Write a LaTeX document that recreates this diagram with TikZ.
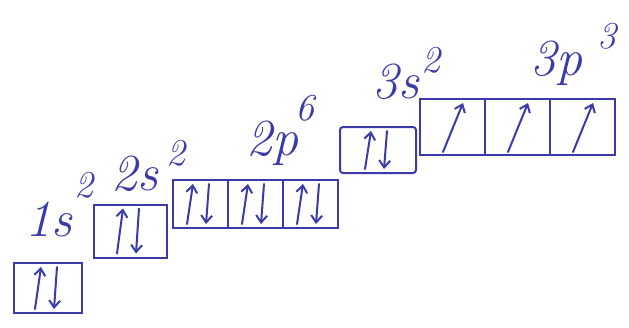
\documentclass[tikz,border=0pt]{standalone}
\usepackage{tikz}
\usetikzlibrary{arrows.meta}
\definecolor{ink}{RGB}{58,58,168}
% pair of opposite spins in one cell
\newcommand\spinpair[1]{%
  \draw[spin] ([xshift=-13pt,yshift=5pt]#1.south) -- ([xshift=-7pt,yshift=-5pt]#1.north);
  \draw[spin] ([xshift=9pt,yshift=-5pt]#1.north) -- ([xshift=6pt,yshift=5pt]#1.south);}
% single spin in one cell
\newcommand\spinup[1]{%
  \draw[spin] ([xshift=-9pt,yshift=4pt]#1.south) -- ([xshift=11pt,yshift=-5pt]#1.north);}
\begin{document}
\begin{tikzpicture}[x=1pt,y=-1pt,
  cell/.style={draw=ink,line width=2pt,inner sep=0pt},
  spin/.style={ink,line width=2pt,line cap=round,-{Straight Barb[length=7pt,width=11pt]}},
  lbl/.style={text=ink,anchor=base,font=\fontsize{52}{56}\selectfont\itshape},
  sup/.style={text=ink,anchor=base,font=\fontsize{38}{42}\selectfont\itshape}]
  \useasboundingbox (0,0) rectangle (629,327);
  % 1s
  \node[cell,minimum width=68pt,minimum height=50pt] (s1) at (48,288) {};
  \spinpair{s1}
  \node[lbl] (l1s) at (49,236) {1s};
  \node[sup] (p1s) at (84,197) {2};
  % 2s
  \node[cell,minimum width=73pt,minimum height=53pt] (s2) at (130,231) {};
  \spinpair{s2}
  \node[lbl] (l2s) at (135,190) {2s};
  \node[sup] (p2s) at (176,165) {2};
  % 2p
  \node[cell,minimum width=55pt,minimum height=48pt] (p2a) at (200,204) {};
  \node[cell,minimum width=55pt,minimum height=48pt] (p2b) at (255,204) {};
  \node[cell,minimum width=55pt,minimum height=48pt] (p2c) at (310,204) {};
  \spinpair{p2a}
  \spinpair{p2b}
  \spinpair{p2c}
  \node[lbl] (l2p) at (272,155) {2p};
  \node[sup] (p2p) at (305,120) {6};
  % 3s
  \node[cell,rounded corners=3pt,minimum width=76pt,minimum height=46pt] (s3) at (378,150) {};
  \spinpair{s3}
  \node[lbl] (l3s) at (396,98) {3s};
  \node[sup] (p3s) at (431,72) {2};
  % 3p
  \node[cell,minimum width=65pt,minimum height=56pt] (p3a) at (452,127) {};
  \node[cell,minimum width=65pt,minimum height=56pt] (p3b) at (517,127) {};
  \node[cell,minimum width=65pt,minimum height=56pt] (p3c) at (582,127) {};
  \spinup{p3a}
  \spinup{p3b}
  \spinup{p3c}
  \node[lbl] (l3p) at (556,75) {3p};
  \node[sup] (p3p) at (607,48) {3};
\end{tikzpicture}
\end{document}
